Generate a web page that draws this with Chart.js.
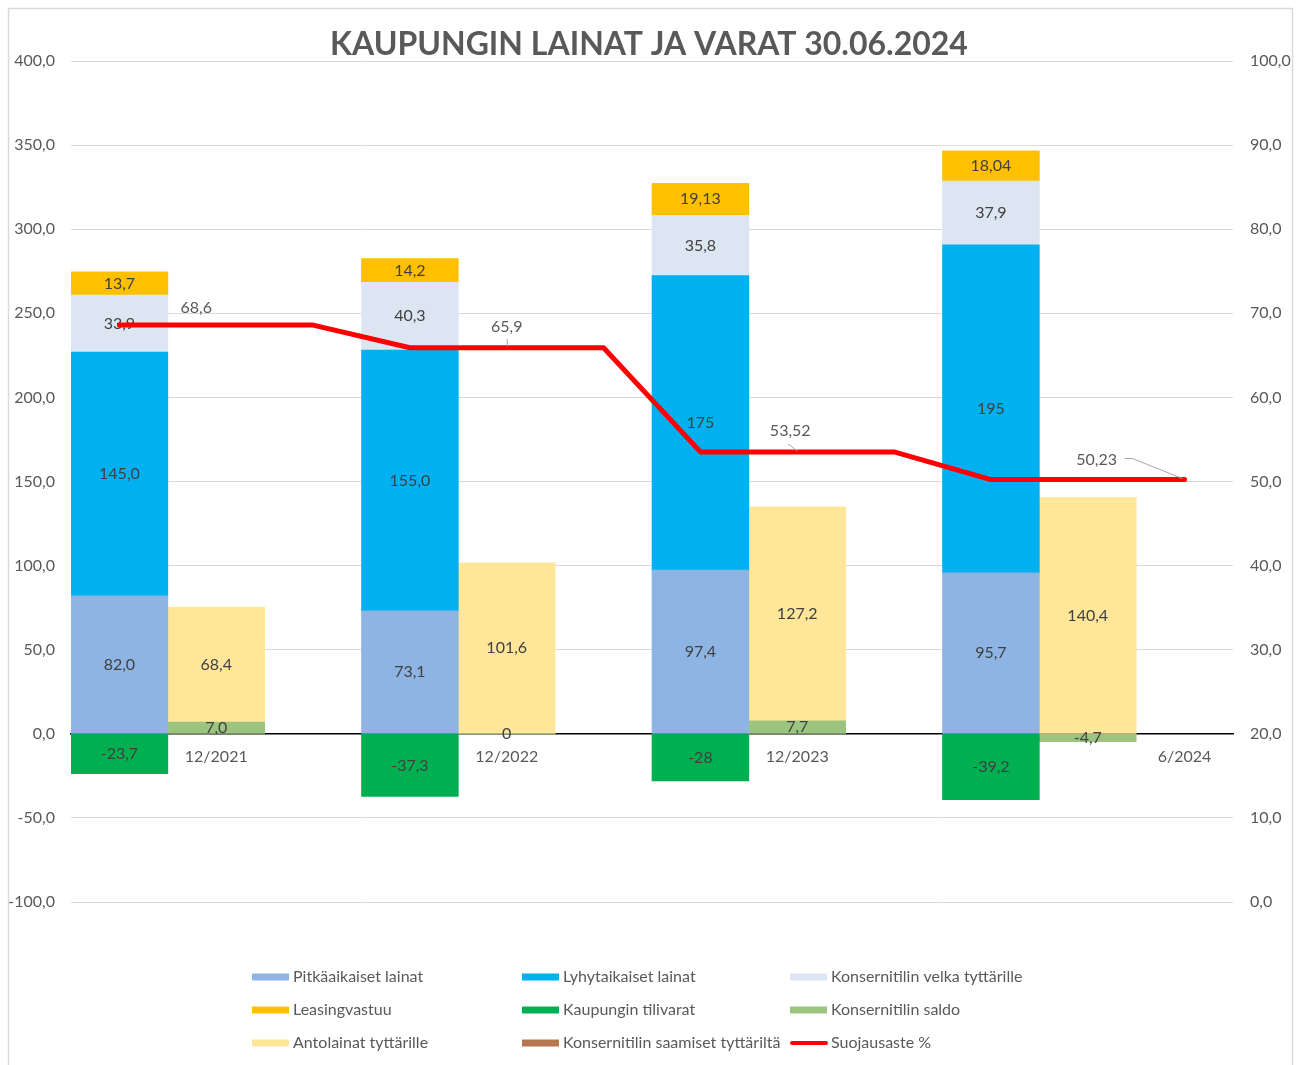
<!DOCTYPE html>
<html>
<head>
<meta charset="utf-8">
<script src="https://cdn.jsdelivr.net/npm/chart.js@4.4.1/dist/chart.umd.min.js"></script>
<style>
  html, body { margin: 0; padding: 0; background: #fff; }
  #wrap { width: 1302px; height: 1065px; }
</style>
</head>
<body>
<div id="wrap"><canvas id="chart" width="1302" height="1065"></canvas></div>
<script>
// categories: bars sit in their own slots, every third slot is empty
const categories = ['', '12/2021', '', '', '12/2022', '', '', '12/2023', '', '', '', '6/2024'];

// liabilities (left bar of each group)
const pitkaaikaiset = [82.0, null, null, 73.1, null, null, 97.4, null, null, 95.7, null, null];
const lyhytaikaiset = [145.0, null, null, 155.0, null, null, 175, null, null, 195, null, null];
const konsernivelka = [33.9, null, null, 40.3, null, null, 35.8, null, null, 37.9, null, null];
const leasingvastuu = [13.7, null, null, 14.2, null, null, 19.13, null, null, 18.04, null, null];
const tilivarat = [-23.7, null, null, -37.3, null, null, -28, null, null, -39.2, null, null];

// assets (right bar of each group)
const konsernisaldo = [null, 7.0, null, null, 0, null, null, 7.7, null, null, -4.7, null];
const antolainat = [null, 68.4, null, null, 101.6, null, null, 127.2, null, null, 140.4, null];
const saamiset = [null, null, null, null, null, null, null, null, null, null, null, null];

// hedge ratio, secondary axis
const suojausaste = [68.6, 68.6, 68.6, 65.9, 65.9, 65.9, 53.52, 53.52, 53.52, 50.23, 50.23, 50.23];

const leftTicks = [-100, -50, 0, 50, 100, 150, 200, 250, 300, 350, 400];
const rightTicks = [0, 10, 20, 30, 40, 50, 60, 70, 80, 90, 100];

const FONT = 'Lato, "Open Sans", sans-serif';
const GREY = '#595959';

Chart.defaults.font.family = FONT;
Chart.defaults.font.size = 16;
Chart.defaults.color = GREY;

function comma(s) { return String(s).replace('.', ','); }
function fmtBar(v, i) {
  if (v === 0) return '0';
  return i < 6 ? comma(v.toFixed(1)) : comma(v);
}

function barSet(label, data, color) {
  return {
    label: label, data: data, backgroundColor: color, borderWidth: 0,
    stack: 'all', yAxisID: 'y', barPercentage: 1, categoryPercentage: 1
  };
}

// where each hedge-ratio label sits relative to its point, with leader line offsets
const lineLabelSpots = [
  { i: 1, dx: -20, dy: -17, leader: null },
  { i: 4, dx: 0, dy: -21, leader: [[0.5, -9], [0.5, -2]] },
  { i: 7, dx: -7, dy: -21, leader: [[-9, -8], [0, -1]] },
  { i: 11, dx: -88, dy: -20, leader: [[-60, -21], [-52, -21], [-2, -1]] }
];

const frame = {
  id: 'frame',
  beforeDraw(chart) {
    const ctx = chart.ctx;
    ctx.save();
    ctx.fillStyle = '#fff';
    ctx.fillRect(0, 0, chart.width, chart.height);
    ctx.strokeStyle = '#D9D9D9';
    ctx.lineWidth = 1.5;
    ctx.strokeRect(8.5, 8.5, 1284, 1080);
    ctx.restore();
  },
  afterDraw(chart) {
    const ctx = chart.ctx;
    ctx.save();
    ctx.fillStyle = GREY;
    ctx.font = 'bold 32px ' + FONT;
    ctx.textAlign = 'center';
    ctx.textBaseline = 'middle';
    ctx.fillText('KAUPUNGIN LAINAT JA VARAT 30.06.2024', 649, 45);

    // legend in a 3 x 3 grid
    const cols = [252, 522, 790];
    const rows = [977, 1010, 1043];
    ctx.font = '16px ' + FONT;
    ctx.textAlign = 'left';
    chart.data.datasets.forEach((ds, k) => {
      const x = cols[k % 3], y = rows[Math.floor(k / 3)];
      if (ds.type === 'line') {
        ctx.strokeStyle = ds.borderColor;
        ctx.lineWidth = 4;
        ctx.lineCap = 'round';
        ctx.beginPath();
        ctx.moveTo(x + 2, y);
        ctx.lineTo(x + 36, y);
        ctx.stroke();
      } else {
        ctx.fillStyle = ds.backgroundColor;
        ctx.fillRect(x, y - 3.5, 37, 7);
      }
      ctx.fillStyle = GREY;
      ctx.fillText(ds.label, x + 41, y);
    });
    ctx.restore();
  }
};

const labels = {
  id: 'labels',
  beforeDatasetDraw(chart, args) {
    if (args.meta.type !== 'line') return;
    const ctx = chart.ctx;
    ctx.save();
    ctx.font = '16px ' + FONT;
    ctx.fillStyle = '#404040';
    ctx.textAlign = 'center';
    ctx.textBaseline = 'middle';
    chart.data.datasets.forEach((ds, di) => {
      if (ds.type === 'line') return;
      chart.getDatasetMeta(di).data.forEach((el, i) => {
        const v = ds.data[i];
        if (v === null || v === undefined) return;
        ctx.fillText(fmtBar(v, i), el.x, (el.y + el.base) / 2);
      });
    });
    ctx.restore();
  },
  afterDatasetsDraw(chart) {
    const ctx = chart.ctx;
    const idx = chart.data.datasets.findIndex(ds => ds.type === 'line');
    const pts = chart.getDatasetMeta(idx).data;
    ctx.save();
    ctx.font = '16px ' + FONT;
    ctx.textAlign = 'center';
    ctx.textBaseline = 'middle';
    lineLabelSpots.forEach(s => {
      const p = pts[s.i];
      if (s.leader) {
        ctx.strokeStyle = '#A6A6A6';
        ctx.lineWidth = 1;
        ctx.beginPath();
        s.leader.forEach((o, k) => {
          if (k === 0) ctx.moveTo(p.x + o[0], p.y + o[1]);
          else ctx.lineTo(p.x + o[0], p.y + o[1]);
        });
        ctx.stroke();
      }
      ctx.fillStyle = GREY;
      ctx.fillText(comma(suojausaste[s.i]), p.x + s.dx, p.y + s.dy);
    });
    ctx.restore();
  }
};

new Chart(document.getElementById('chart'), {
  type: 'bar',
  data: {
    labels: categories,
    datasets: [
      barSet('Pitkäaikaiset lainat', pitkaaikaiset, '#8DB4E2'),
      barSet('Lyhytaikaiset lainat', lyhytaikaiset, '#00B0F0'),
      barSet('Konsernitilin velka tyttärille', konsernivelka, '#DCE6F2'),
      barSet('Leasingvastuu', leasingvastuu, '#FFC000'),
      barSet('Kaupungin tilivarat', tilivarat, '#00B050'),
      barSet('Konsernitilin saldo', konsernisaldo, '#9BC57F'),
      barSet('Antolainat tyttärille', antolainat, '#FFE699'),
      barSet('Konsernitilin saamiset tyttäriltä', saamiset, '#B5784E'),
      {
        type: 'line', label: 'Suojausaste %', data: suojausaste, yAxisID: 'y1',
        borderColor: '#FF0000', backgroundColor: '#FF0000', borderWidth: 5,
        pointRadius: 0, tension: 0, borderJoinStyle: 'round', borderCapStyle: 'round',
        order: -1
      }
    ]
  },
  options: {
    responsive: false,
    animation: false,
    events: [],
    layout: { padding: { left: 8, right: 9, top: 61, bottom: 163 } },
    plugins: { legend: { display: false }, tooltip: { enabled: false }, title: { display: false } },
    scales: {
      x: {
        position: { y: 0 },
        stacked: true,
        grid: { display: false, drawTicks: false },
        border: { display: true, color: '#000', width: 1.5 },
        ticks: { autoSkip: false, maxRotation: 0, padding: 13, color: GREY },
        afterFit(s) { s.height = 0; }
      },
      y: {
        stacked: true, min: leftTicks[0], max: leftTicks[leftTicks.length - 1],
        afterBuildTicks(s) { s.ticks = leftTicks.map(v => ({ value: v })); },
        ticks: { padding: 16, color: GREY, callback: v => comma(Number(v).toFixed(1)) },
        grid: { color: '#D9D9D9', lineWidth: 1, drawTicks: false },
        border: { display: false },
        afterFit(s) { s.width = 63; }
      },
      y1: {
        position: 'right', min: rightTicks[0], max: rightTicks[rightTicks.length - 1],
        afterBuildTicks(s) { s.ticks = rightTicks.map(v => ({ value: v })); },
        ticks: { padding: 17, color: GREY, callback: v => comma(Number(v).toFixed(1)) },
        grid: { display: false, drawTicks: false },
        border: { display: false },
        afterFit(s) { s.width = 60; }
      }
    }
  },
  plugins: [frame, labels]
});
</script>
</body>
</html>
